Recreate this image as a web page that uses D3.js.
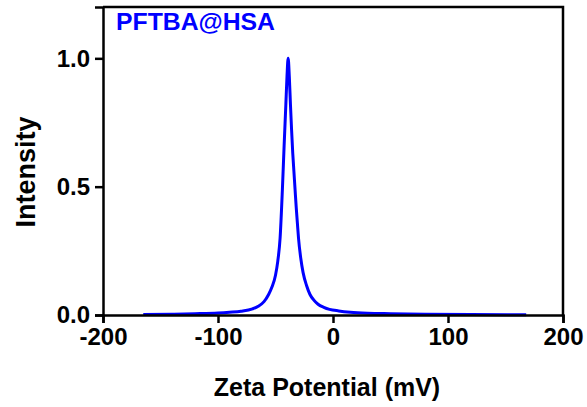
<!DOCTYPE html>
<html><head><meta charset="utf-8">
<script src="https://cdn.jsdelivr.net/npm/d3@7"></script>
<style>body{margin:0;background:#fff;} svg{display:block;}</style>
</head><body>
<svg id="chart" width="587" height="407"></svg>
<script>
const zeta = [-165,-140,-120,-100,-90,-80,-70,-65,-60,-56,-53,-50,-48,-46,-44,-42.5,-41,-40,-39,-38,-37,-36,-35,-34,-33,-32,-31,-30,-28,-26,-23,-20,-17,-13,-8,-3,5,15,30,50,80,120,168];
const intensity = [0.002,0.003,0.005,0.008,0.011,0.015,0.024,0.034,0.052,0.08,0.11,0.155,0.21,0.30,0.49,0.66,0.82,0.93,1.0,0.93,0.82,0.72,0.63,0.56,0.49,0.42,0.36,0.30,0.22,0.165,0.115,0.08,0.06,0.042,0.03,0.022,0.016,0.011,0.007,0.005,0.003,0.002,0.001];
const xTicks = [-200,-100,0,100,200];
const yTicks = [0,0.5,1.0];
const seriesLabel = "PFTBA@HSA";
const xTitle = "Zeta Potential (mV)";
const yTitle = "Intensity";

const W = 587, H = 407;
const m = {left:103, right:24, top:7, bottom:92};
const svg = d3.select("#chart");
const x = d3.scaleLinear().domain([-200,200]).range([m.left, W-m.right]);
const y = d3.scaleLinear().domain([0,1.2]).range([H-m.bottom, m.top]);
const font = "'Liberation Sans', Arial, Helvetica, sans-serif";

// frame top/right
svg.append("path")
  .attr("d", `M${x(-200)},${y(1.2)}H${x(200)}V${y(0)}`)
  .attr("fill","none").attr("stroke","#000").attr("stroke-width",2.5);

const data = zeta.map((v,i)=>({x:v,y:intensity[i]}));
const line = d3.line().x(d=>x(d.x)).y(d=>y(d.y)).curve(d3.curveMonotoneX);
svg.append("path").datum(data).attr("d", line)
  .attr("fill","none").attr("stroke","#0000ff").attr("stroke-width",3).attr("stroke-linejoin","round");

const xAxis = svg.append("g").attr("transform",`translate(0,${y(0)})`)
  .call(d3.axisBottom(x).tickValues(xTicks).tickSize(8).tickPadding(5).tickFormat(d=>String(d)));
const yAxis = svg.append("g").attr("transform",`translate(${x(-200)},0)`)
  .call(d3.axisLeft(y).tickValues(yTicks).tickSize(8).tickPadding(5).tickFormat(d=>d.toFixed(1)));
[xAxis,yAxis].forEach(g=>{
  g.select(".domain").attr("stroke","#000").attr("stroke-width",2.5);
  g.selectAll(".tick line").attr("stroke","#000").attr("stroke-width",2.5);
  g.selectAll(".tick text").attr("fill","#000").style("font-family",font)
    .style("font-weight","bold").style("font-size","24px");
});

svg.append("text").attr("x",327).attr("y",396)
  .attr("text-anchor","middle").style("font-family",font).style("font-weight","bold")
  .style("font-size","25px").attr("fill","#000").text(xTitle);
svg.append("text").attr("transform",`translate(35,${(y(0)+y(1.2))/2+11}) rotate(-90)`)
  .attr("text-anchor","middle").style("font-family",font).style("font-weight","bold")
  .style("font-size","27px").attr("fill","#000").text(yTitle);
svg.append("text").attr("x",116).attr("y",30)
  .attr("textLength",159).attr("lengthAdjust","spacingAndGlyphs")
  .style("font-family",font).style("font-weight","bold")
  .style("font-size","24px").attr("fill","#0000ff").text(seriesLabel);
</script>
</body></html>
